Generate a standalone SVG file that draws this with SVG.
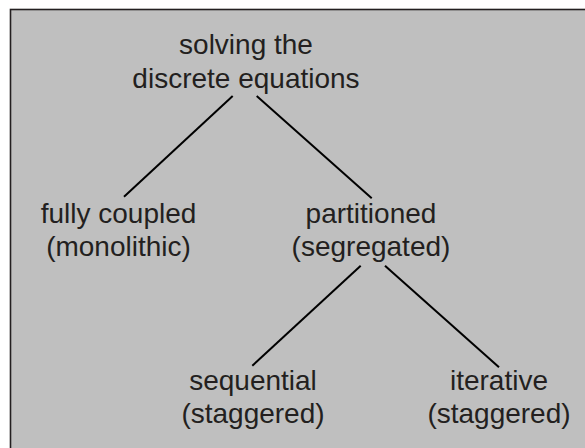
<svg xmlns="http://www.w3.org/2000/svg" width="585" height="448" viewBox="0 0 585 448">
<style>
text{font-family:"Liberation Sans",Arial,sans-serif;font-size:28px;fill:#231f20;text-anchor:middle}
.c line{stroke:#000;stroke-width:2;stroke-linecap:butt}
</style>
<rect x="0" y="0" width="585" height="448" fill="#fff"/>
<rect x="10.5" y="9.5" width="600" height="460" fill="#bfbfbf" stroke="#231f20" stroke-width="1.6"/>
<g class="c" id="connectors">
<line x1="232.7" y1="96" x2="124" y2="196.7"/>
<line x1="256.7" y1="96" x2="371.7" y2="198.3"/>
<line x1="360.7" y1="265.7" x2="252.3" y2="365.7"/>
<line x1="385" y1="265.7" x2="499" y2="367.3"/>
</g>
<g id="root"><text x="246" y="54">solving the</text><text x="246" y="88">discrete equations</text></g>
<g id="coupled"><text x="118.5" y="223">fully coupled</text><text x="118.5" y="256">(monolithic)</text></g>
<g id="partitioned"><text x="371" y="223">partitioned</text><text x="371" y="256">(segregated)</text></g>
<g id="sequential"><text x="253" y="390">sequential</text><text x="253" y="423">(staggered)</text></g>
<g id="iterative"><text x="499" y="390">iterative</text><text x="499" y="423">(staggered)</text></g>
</svg>
